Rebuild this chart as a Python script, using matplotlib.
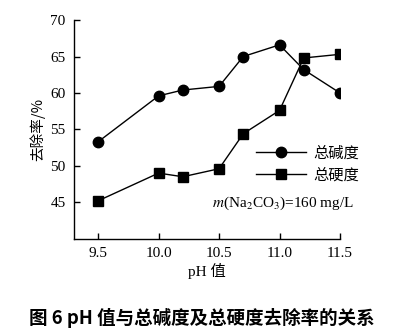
import matplotlib
matplotlib.use("Agg")
import matplotlib.pyplot as plt

plt.rcParams['mathtext.fontset'] = 'stix'
plt.rcParams['font.family'] = ['Liberation Serif', 'Noto Sans CJK SC']

ph = [9.5, 10.0, 10.2, 10.5, 10.7, 11.0, 11.2, 11.5]
alkalinity = [53.3, 59.6, 60.4, 60.9, 65.0, 66.6, 63.2, 60.0]
hardness = [45.2, 49.0, 48.5, 49.6, 54.4, 57.6, 64.8, 65.3]
xticks = [9.5, 10.0, 10.5, 11.0, 11.5]
xticklabels = ['9.5', '10.0', '10.5', '11.0', '11.5']
yticks = [45, 50, 55, 60, 65, 70]
series_names = ['总碱度', '总硬度']

fig = plt.figure(figsize=(4.03, 3.29), dpi=100)
ax = fig.add_axes([0.1836, 0.2745, 0.66, 0.6645])

ax.plot(ph, alkalinity, '-o', color='black', lw=1.0, ms=7.5, label=series_names[0])
ax.plot(ph, hardness, '-s', color='black', lw=1.0, ms=7.5, label=series_names[1])

ax.set_xlim(9.3, 11.5)
ax.set_ylim(40, 70)
ax.set_xticks(xticks)
ax.set_xticklabels(xticklabels)
ax.set_yticks(yticks)
for s in ['top', 'right']:
    ax.spines[s].set_visible(False)
for s in ['left', 'bottom']:
    ax.spines[s].set_linewidth(1.0)
ax.tick_params(direction='in', length=4, width=1.0, labelsize=11, pad=6)

ax.set_xlabel('pH 值', fontsize=11, labelpad=2,
              family=['Liberation Serif', 'Noto Sans CJK SC'])
ax.set_ylabel('去除率/%', fontsize=10.5, labelpad=4,
              family=['Noto Sans CJK SC', 'Liberation Serif'])

leg = ax.legend(loc='upper left', bbox_to_anchor=(0.66, 0.46), frameon=False,
                handlelength=3.3, handletextpad=0.5, borderaxespad=0,
                labelspacing=0.35, prop={'family': 'Noto Sans CJK SC', 'size': 11})

ax.text(0.52, 0.163, r'$m$(Na$_2$CO$_3$)=160 mg/L', transform=ax.transAxes,
        fontsize=11, ha='left', va='center')

fig.text(0.5, 0.035, '图 6 pH 值与总碱度及总硬度去除率的关系', ha='center', va='center',
         fontsize=13.3, fontweight='bold', family=['Noto Sans CJK SC', 'Liberation Serif'])

fig.savefig('out.png', dpi=100)
